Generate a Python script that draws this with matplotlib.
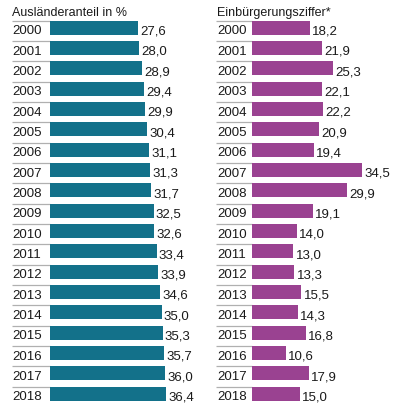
import matplotlib
matplotlib.use("Agg")
import matplotlib.pyplot as plt

years = [str(y) for y in range(2000, 2019)]
auslaender = [27.6, 28.0, 28.9, 29.4, 29.9, 30.4, 31.1, 31.3, 31.7, 32.5,
              32.6, 33.4, 33.9, 34.6, 35.0, 35.3, 35.7, 36.0, 36.4]
einbuerg = [18.2, 21.9, 25.3, 22.1, 22.2, 20.9, 19.4, 34.5, 29.9, 19.1,
            14.0, 13.0, 13.3, 15.5, 14.3, 16.8, 10.6, 17.9, 15.0]
titles = ["Ausländeranteil in %", "Einbürgerungsziffer*"]
colors = ["#13718a", "#9a4291"]

plt.rcParams['font.family'] = ['Liberation Sans', 'DejaVu Sans']
W, H = 396, 403
fig = plt.figure(figsize=(W / 100, H / 100), dpi=100)

scale = 3.19  # px per unit
row0, pitch = 27.8, 20.33
ylim = ((H - row0) / pitch, (0 - row0) / pitch)

panels = [
    dict(x0=0, x1=198, zero=50, sep_start=12, lab=12.5),
    dict(x0=200, x1=396, zero=252, sep_start=216, lab=217),
]

for p, vals, title, col in zip(panels, [auslaender, einbuerg], titles, colors):
    ax = fig.add_axes([p['x0'] / W, 0, (p['x1'] - p['x0']) / W, 1])
    ax.set_xlim((p['x0'] - p['zero']) / scale, (p['x1'] - p['zero']) / scale)
    ax.set_ylim(*ylim)
    ax.axis('off')
    bh = 0.69
    ypos = list(range(len(years)))
    ax.barh(ypos, vals, height=bh, color=col, left=0, zorder=2)
    xs = (p['sep_start'] - p['zero']) / scale
    xl = (p['lab'] - p['zero']) / scale
    for i, (yr, v) in enumerate(zip(years, vals)):
        ax.plot([xs, 0], [i - bh / 2, i - bh / 2], color="#b0b0b0", lw=0.9,
                zorder=1, solid_capstyle='butt')
        ax.text(xl, i + bh / 2 - 0.02, yr, fontsize=9.5, color="#1a1a1a",
                ha='left', va='baseline')
        ax.text(v + 0.7, i + bh / 2 - 0.02, f"{v:.1f}".replace('.', ','),
                fontsize=9.5, color="#1a1a1a", ha='left', va='baseline')
    ax.text(xl, (16.2 - row0) / pitch, title, fontsize=9, color="#1a1a1a",
            ha='left', va='baseline')

fig.savefig("out.png", dpi=100)
